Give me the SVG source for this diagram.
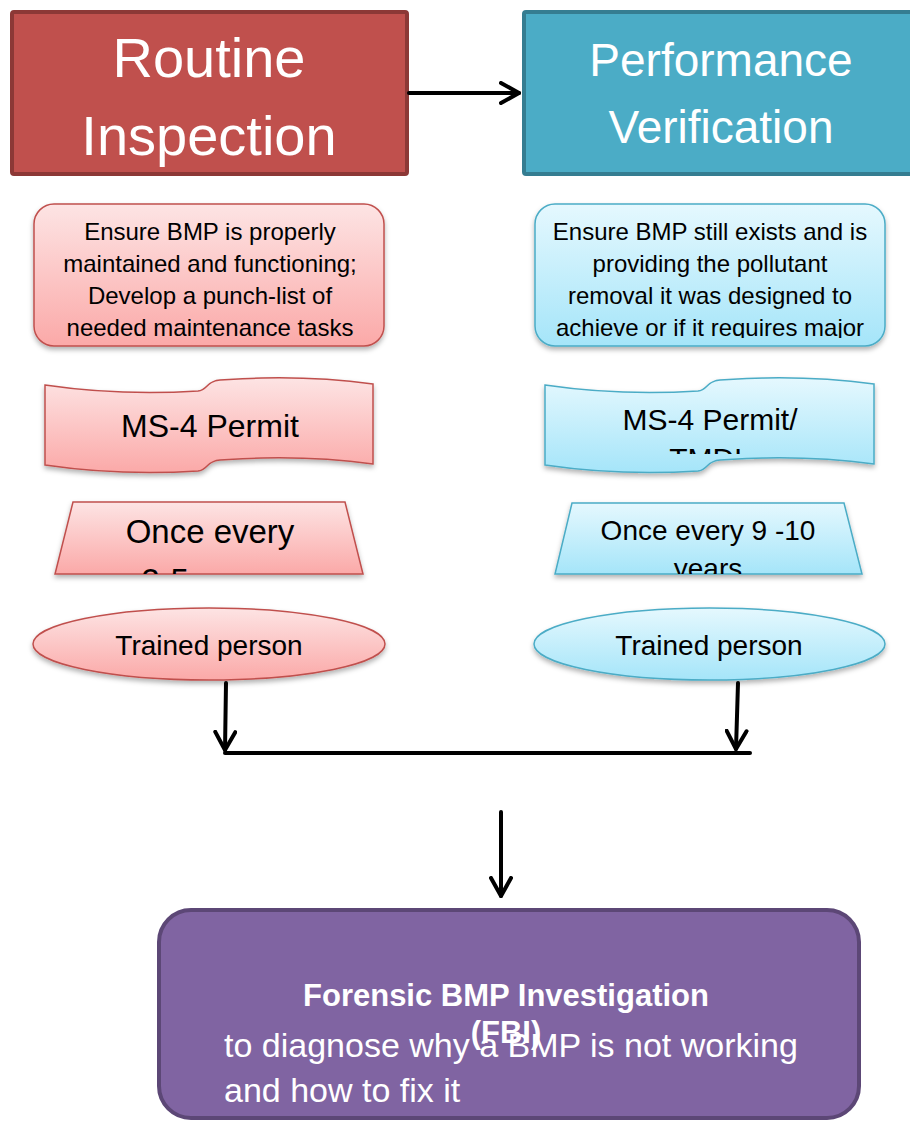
<svg xmlns="http://www.w3.org/2000/svg" width="910" height="1121" viewBox="0 0 910 1121">
<defs>
<linearGradient id="gPink" x1="0" y1="0" x2="0" y2="1">
<stop offset="0" stop-color="#fde4e4"/><stop offset="1" stop-color="#fba9a8"/>
</linearGradient>
<linearGradient id="gBlue" x1="0" y1="0" x2="0" y2="1">
<stop offset="0" stop-color="#e5f8fe"/><stop offset="1" stop-color="#a5e5f9"/>
</linearGradient>
<filter id="sh" x="-10%" y="-10%" width="120%" height="130%">
<feDropShadow dx="0" dy="3" stdDeviation="2.5" flood-color="#000" flood-opacity="0.3"/>
</filter>
<clipPath id="cBlueBox"><rect x="530" y="200" width="360" height="138"/></clipPath>
<clipPath id="cBlueWave"><rect x="540" y="370" width="340" height="84"/></clipPath>
<clipPath id="cTrapL"><rect x="50" y="500" width="320" height="74"/></clipPath>
<clipPath id="cTrapR"><rect x="550" y="500" width="320" height="74"/></clipPath>
<marker id="chev" viewBox="0 0 12 12" refX="10" refY="6" markerWidth="6" markerHeight="6" orient="auto" markerUnits="strokeWidth">
<path d="M1,1 L10,6 L1,11" fill="none" stroke="#000" stroke-width="2" stroke-linecap="round" stroke-linejoin="round"/>
</marker>
</defs>
<style>
text{font-family:"Liberation Sans",Arial,sans-serif;text-anchor:middle}
.w{fill:#fff}
.k{fill:#000}
.pink{fill:url(#gPink);stroke:#c0504d;stroke-width:1.5;filter:url(#sh)}
.blue{fill:url(#gBlue);stroke:#4bacc6;stroke-width:1.5;filter:url(#sh)}
.ln{stroke:#000;stroke-width:4;fill:none;stroke-linecap:round}
</style>

<g id="routine-inspection">
<rect x="12" y="12" width="395" height="162" rx="2" fill="#c0504d" stroke="#8c3836" stroke-width="4"/>
<text class="w" x="209" y="77" font-size="56">Routine</text>
<text class="w" x="209" y="155" font-size="56">Inspection</text>
</g>

<g id="performance-verification">
<rect x="524" y="12" width="392" height="162" rx="2" fill="#4bacc6" stroke="#357d91" stroke-width="4"/>
<text class="w" x="721" y="76" font-size="46">Performance</text>
<text class="w" x="721" y="143" font-size="46">Verification</text>
</g>

<g id="ri-purpose">
<rect class="pink" x="34" y="204" width="350" height="142" rx="20"/>
<g font-size="24" class="k">
<text x="210" y="240">Ensure BMP is properly</text>
<text x="210" y="272">maintained and functioning;</text>
<text x="210" y="304">Develop a punch-list of</text>
<text x="210" y="336">needed maintenance tasks</text>
</g>
</g>

<g id="pv-purpose">
<rect class="blue" x="535" y="204" width="350" height="142" rx="20"/>
<g font-size="24" class="k" clip-path="url(#cBlueBox)">
<text x="710" y="240">Ensure BMP still exists and is</text>
<text x="710" y="272">providing the pollutant</text>
<text x="710" y="304">removal it was designed to</text>
<text x="710" y="336">achieve or if it requires major</text>
</g>
</g>

<g id="ri-permit">
<path class="pink" d="M45,385 Q120,396 198,391 C208,390 206,381 220,380 Q300,374 373,384 L373,464 Q300,454 220,460 C206,461 208,470 198,471 Q120,476 45,465 Z"/>
<text class="k" x="210" y="437" font-size="32">MS-4 Permit</text>
</g>

<g id="pv-permit">
<path class="blue" d="M545,385 Q620,396 698,391 C708,390 706,381 720,380 Q800,374 874,384 L874,464 Q800,454 720,460 C706,461 708,470 698,471 Q620,476 545,465 Z"/>
<g clip-path="url(#cBlueWave)" class="k" font-size="30">
<text x="710" y="430">MS-4 Permit/</text>
<text x="710" y="469">TMDL</text>
</g>
</g>

<g id="ri-frequency">
<path class="pink" d="M73,502 L345,502 L363,574 L55,574 Z"/>
<g clip-path="url(#cTrapL)" class="k" font-size="33">
<text x="210" y="543">Once every</text>
<text x="210" y="592">2-5 years</text>
</g>
</g>

<g id="pv-frequency">
<path class="blue" d="M572,503 L844,503 L862,574 L555,574 Z"/>
<g clip-path="url(#cTrapR)" class="k" font-size="28">
<text x="708" y="540">Once every 9 -10</text>
<text x="708" y="578">years</text>
</g>
</g>

<g id="ri-who">
<ellipse class="pink" cx="209" cy="644" rx="176" ry="36"/>
<text class="k" x="209" y="655" font-size="28">Trained person</text>
</g>

<g id="pv-who">
<ellipse class="blue" cx="709.5" cy="644" rx="175.5" ry="36"/>
<text class="k" x="709" y="655" font-size="28">Trained person</text>
</g>

<g id="fbi">
<rect x="159" y="910" width="700" height="208" rx="32" fill="#8064a2" stroke="#5c4776" stroke-width="4"/>
<text class="w" x="506" y="1006" font-size="31" font-weight="bold">Forensic BMP Investigation</text>
<text class="w" x="506" y="1043" font-size="31" font-weight="bold">(FBI)</text>
<text class="w" x="224" y="1057" font-size="34" style="text-anchor:start">to diagnose why a BMP is not working</text>
<text class="w" x="224" y="1102" font-size="34" style="text-anchor:start">and how to fix it</text>
</g>

<g id="connectors">
<line class="ln" x1="409" y1="93" x2="519" y2="93" marker-end="url(#chev)"/>
<line class="ln" x1="226" y1="683" x2="225" y2="750" marker-end="url(#chev)"/>
<line class="ln" x1="738" y1="683" x2="736" y2="749" marker-end="url(#chev)"/>
<line class="ln" x1="225" y1="753" x2="750" y2="753" stroke-linecap="butt"/>
<line class="ln" x1="501" y1="812" x2="501" y2="896" stroke-width="3.5" marker-end="url(#chev)"/>
</g>
</svg>
